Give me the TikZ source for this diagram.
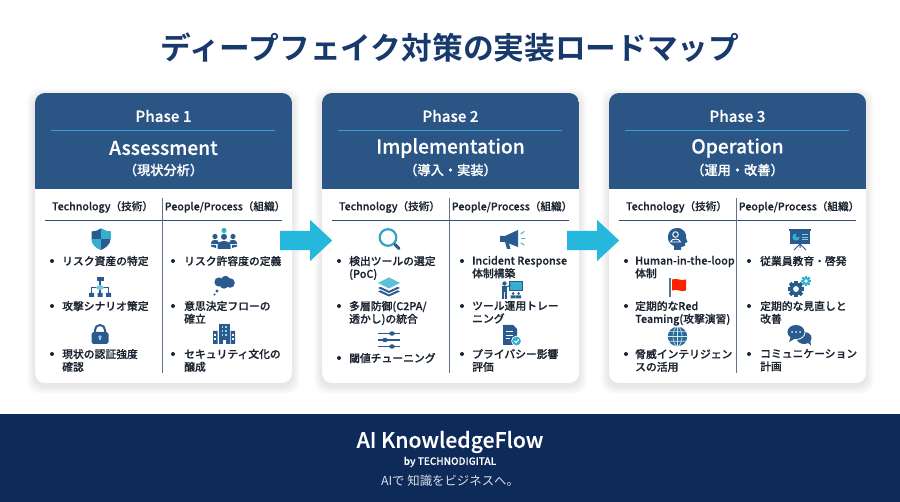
\documentclass[tikz,border=0pt]{standalone}
\usepackage{fontspec}
\usetikzlibrary{shapes.arrows,calc}
\setmainfont{Noto Sans CJK JP}[BoldFont={Noto Sans CJK JP Bold}]
\newfontfamily\medf{Noto Sans CJK JP Medium}[FakeBold=0.35]
\definecolor{hdr}{HTML}{2A5585}
\definecolor{foot}{HTML}{0E2A58}
\definecolor{ttl}{HTML}{17396B}
\definecolor{nv}{HTML}{2A5B8E}
\definecolor{tl}{HTML}{35AFD0}
\definecolor{cyanar}{HTML}{25B8DC}
\definecolor{rulec}{HTML}{2FA5D6}
\definecolor{hline}{HTML}{2E5078}
\definecolor{vline}{HTML}{5F7488}
\definecolor{txt}{HTML}{1B2430}
\tikzset{
 x=1pt,y=-1pt,
 cardbox/.style={fill=white,rounded corners=10pt,minimum width=257pt,minimum height=290pt,inner sep=0pt},
 blockarrow/.style={single arrow,fill=cyanar,inner xsep=0pt,inner ysep=9.5pt,minimum height=52pt,single arrow head extend=11pt,single arrow tip angle=86},
 hdtext/.style={text=white,inner sep=0pt,anchor=center},
 coltext/.style={text=txt,inner sep=0pt,anchor=center,font=\medf\fontsize{10.6}{12}\selectfont},
 itemtext/.style={text=txt,inner sep=0pt,anchor=north west,align=left,font=\medf\fontsize{10.8}{12.8}\selectfont},
 bul/.style={circle,fill=txt,inner sep=0pt,minimum size=4pt},
}
\newcommand\cardframe[5]{%
 \foreach \i in {1,...,8}{\fill[black,opacity=.012,rounded corners=12pt] (#2-\i,93+3-\i) rectangle (#2+257+\i,383+3+\i);}
 \node[cardbox] (card#1) at (#2+128.5,238) {};
 \begin{scope}
  \clip[rounded corners=10pt] (#2,93) rectangle (#2+257,383);
  \fill[hdr] (#2,93) rectangle (#2+257,189.5);
 \end{scope}
 \node[hdtext,font=\medf\fontsize{15.2}{18}\selectfont] (phase#1) at (#2+128.5,116) {#3};
 \draw[rulec,line width=.9pt] (#2+16,130) -- (#2+240,130);
 \node[hdtext,font=\medf\fontsize{19.2}{22}\selectfont] (name#1) at (#2+128.5,148) {#4};
 \node[hdtext,font=\medf\fontsize{13.2}{16}\selectfont] (jp#1) at (#2+128.5,170) {#5};
 \node[coltext] (tech#1) at (#2+67.5,207) {Technology（技術）};
 \node[coltext] (peop#1) at (#2+190,207) {People/Process（組織）};
 \draw[hline,line width=.8pt] (#2+10,220.5) -- (#2+247,220.5);
 \draw[vline,line width=1.1pt] (#2+127.5,198) -- (#2+127.5,373);
}
\newcommand\itm[5]{%
 \node[bul] (b#1) at (#2,#4) {};
 \node[itemtext] (t#1) at (#3+1,#4-5.2) {#5};
}
\newcommand\icShield[2]{\begin{scope}[shift={(#1,#2)}]
 \def\shp{(0,-10.5) .. controls (3,-8.5) and (6,-7.5) .. (9.5,-7.5) -- (9.5,0) .. controls (9.5,5) and (5,9) .. (0,11) .. controls (-5,9) and (-9.5,5) .. (-9.5,0) -- (-9.5,-7.5) .. controls (-6,-7.5) and (-3,-8.5) .. cycle}
 \fill[nv] \shp;
 \begin{scope}\clip \shp;
  \fill[tl] (0,-12) rectangle (12,0);
  \fill[tl] (-12,0) rectangle (0,12);
 \end{scope}
\end{scope}}
\newcommand\icPeople[2]{\begin{scope}[shift={(#1,#2)}]
 \fill[tl] (0,-9.5) circle (2.6);
 \fill[nv] (-9,-3.5) circle (2.6) (9,-3.5) circle (2.6) (0,-3.2) circle (3);
 \fill[nv] (-13,3) .. controls (-13,-1) and (-5,-1.5) .. (-5,3) -- (-5,4) -- (-13,4) -- cycle;
 \fill[nv] (13,3) .. controls (13,-1) and (5,-1.5) .. (5,3) -- (5,4) -- (13,4) -- cycle;
 \fill[nv] (-6.5,9) -- (-6.5,5) .. controls (-6,-0.5) and (6,-0.5) .. (6.5,5) -- (6.5,9) -- cycle;
 \fill[nv] (-13,5) -- (-8,5) -- (-8,8) -- (-13,6.5) -- cycle (13,5) -- (8,5) -- (8,8) -- (13,6.5) -- cycle;
\end{scope}}
\newcommand\icTree[2]{\begin{scope}[shift={(#1,#2)}]
 \draw[nv,line width=1.1pt] (0,-7) -- (0,6) (-8.5,6) -- (-8.5,.5) -- (8.5,.5) -- (8.5,6);
 \fill[nv] (-3.5,-10) rectangle (3.5,-6);
 \fill[nv] (-11,6) rectangle (-6,10) (-2.5,6) rectangle (2.5,10) (6,6) rectangle (11,10);
 \fill[tl!70] (0,.5) ellipse (3.8 and 2.4);
\end{scope}}
\newcommand\icLock[2]{\begin{scope}[shift={(#1,#2)}]
 \draw[nv,line width=2pt] (-5,-2) -- (-5,-4) arc (180:360:5) -- (5,-2);
 \fill[nv,rounded corners=1.8pt] (-8.5,-2) rectangle (8.5,10);
 \fill[tl!60] (0,3) circle (1.8);
 \fill[tl!60] (-.8,3) rectangle (.8,6.5);
\end{scope}}
\newcommand\icCloud[2]{\begin{scope}[shift={(#1,#2)}]
 \fill[nv] (-5,-3) circle (4.6) (1.5,-5) circle (4.2) (6,-2) circle (4.8) (0,-.5) circle (4.2);
 \fill[nv] (-7,6) circle (1.6) (-9.5,9.5) circle (1.1);
\end{scope}}
\newcommand\icBuild[2]{\begin{scope}[shift={(#1,#2)}]
 \fill[nv] (-5.5,-10) rectangle (5.5,10);
 \fill[nv] (-11,-3) rectangle (-6.5,10) (6.5,-3) rectangle (11,10);
 \foreach \x in {-2.5,1.2}\foreach \y in {-7.5,-3.5,.5}{\fill[tl!50] (\x,\y) rectangle (\x+1.6,\y+2);}
 \foreach \x in {-9.7,7.9}\foreach \y in {0,4}{\fill[white] (\x,\y) rectangle (\x+1.8,\y+2);}
 \fill[white] (-1.5,6) rectangle (1.5,10);
\end{scope}}
\newcommand\icGlass[2]{\begin{scope}[shift={(#1,#2)}]
 \draw[tl!85!nv,line width=2.2pt] (-1,-1.5) circle (8.3);
 \draw[nv,line width=3pt,line cap=round] (6,5.5) -- (10,9.5);
\end{scope}}
\newcommand\icMega[2]{\begin{scope}[shift={(#1,#2)}]
 \fill[nv] (-12,-3) -- (-7,-3) -- (6,-9) -- (6,8) -- (-7,3) -- (-12,3) -- cycle;
 \fill[nv] (-7,3) -- (-3,4.5) -- (-1.5,10) -- (-5,10) -- cycle;
 \draw[tl,line width=.9pt,line cap=round] (9,-5) -- (12,-7.5) (9.5,-.5) -- (13,-.5) (9,4) -- (12,6);
\end{scope}}
\newcommand\icLayers[2]{\begin{scope}[shift={(#1,#2)}]
 \fill[nv] (-11,4.5) -- (0,-.5) -- (11,4.5) -- (0,9.5) -- cycle;
 \fill[white] (-11,2) -- (0,-3.3) -- (11,2) -- (0,7.3) -- cycle;
 \fill[nv] (-11,1) -- (0,-4) -- (11,1) -- (0,6) -- cycle;
 \fill[white] (-11,-1.5) -- (0,-6.8) -- (11,-1.5) -- (0,3.8) -- cycle;
 \fill[tl!80] (-11,-4) -- (0,-9.5) -- (11,-4) -- (0,1.5) -- cycle;
\end{scope}}
\newcommand\icTrain[2]{\begin{scope}[shift={(#1,#2)}]
 \fill[tl] (-3,-9) rectangle (10,0);
 \draw[nv,line width=.9pt] (-3,-9) rectangle (10,0);
 \fill[nv] (-7.5,-6.5) circle (2.2);
 \fill[nv] (-10,-4) rectangle (-5,2);
 \fill[nv] (-9.8,2) rectangle (-8,9) (-7,2) rectangle (-5.2,9);
 \draw[nv,line width=1pt] (-5.5,-3) -- (-1,-5);
 \fill[nv] (1,3.5) circle (1.5) (6.5,3.5) circle (1.5);
 \fill[nv] (-1.5,5.5) rectangle (3.5,8.5) (4,5.5) rectangle (9,8.5);
\end{scope}}
\newcommand\icSlide[2]{\begin{scope}[shift={(#1,#2)}]
 \draw[nv,line width=1.1pt] (-11,-6.5) -- (11,-6.5) (-11,0) -- (11,0) (-11,6.5) -- (11,6.5);
 \fill[nv] (3,-6.5) ellipse (2.9 and 2.2) (-4,0) ellipse (2.9 and 2.2) (3,6.5) ellipse (2.9 and 2.2);
\end{scope}}
\newcommand\icDoc[2]{\begin{scope}[shift={(#1,#2)}]
 \fill[nv] (-7,-10) -- (3,-10) -- (7,-6) -- (7,10) -- (-7,10) -- cycle;
 \draw[white,line width=.9pt] (-4.5,-3.5) -- (3,-3.5) (-4.5,0) -- (3,0) (-4.5,3.5) -- (0,3.5);
 \fill[white] (6.5,6) circle (5.3);
 \fill[tl] (6.5,6) circle (4.4);
 \draw[white,line width=.9pt] (4.4,6) -- (6,7.7) -- (8.8,4.4);
\end{scope}}
\newcommand\icHead[2]{\begin{scope}[shift={(#1,#2)}]
 \fill[nv] (-3,11) -- (-3,7) .. controls (-12,4) and (-11,-11) .. (0,-11) .. controls (7,-11) and (10,-5) .. (9,-1) -- (10.5,3) -- (8,4) -- (8,7) -- (4,8) -- (4,11) -- cycle;
 \draw[white,line width=.9pt] (-1.5,-4.5) circle (2.8) (-6.5,3) .. controls (-5.5,-1) and (2.5,-1) .. (3.5,3) -- cycle;
\end{scope}}
\newcommand\icBoard[2]{\begin{scope}[shift={(#1,#2)}]
 \fill[nv] (-10,-8) rectangle (10,5);
 \fill[nv] (-11,-9.5) rectangle (11,-8);
 \fill[tl] (-4,-2) circle (3.6);
 \fill[nv] (-4,-2) -- (-4,-5.6) arc (270:360:3.6) -- cycle;
 \draw[tl!60,line width=.9pt] (1.5,-4.5) -- (7.5,-4.5) (1.5,-2) -- (7.5,-2) (1.5,.5) -- (7.5,.5);
 \draw[nv,line width=1pt] (0,5) -- (-6,11) (0,5) -- (6,11) (0,5) -- (0,9);
\end{scope}}
\newcommand\icFlag[2]{\begin{scope}[shift={(#1,#2)}]
 \draw[vline,line width=1.2pt] (-8,-9) -- (-8,10);
 \fill[red!75!orange] (-6,-7.5) .. controls (-1,-9.5) and (3,-5.5) .. (8,-7.5) -- (8,3.5) .. controls (3,5.5) and (-1,1.5) .. (-6,3.5) -- cycle;
\end{scope}}
\newcommand\gearshape[3]{%
 \foreach \a in {0,45,...,315}{\fill[#3,rotate around={\a:(#1)}] ($(#1)+(-.28*#2,-1.42*#2)$) rectangle ($(#1)+(.28*#2,1.42*#2)$);}
 \fill[#3] (#1) circle ({1.1*#2});
 \fill[white] (#1) circle ({.5*#2});
}
\newcommand\icGears[2]{\begin{scope}[shift={(#1,#2)}]
 \gearshape{-2,3}{5.8}{nv}
 \gearshape{8,-5}{3.6}{tl}
\end{scope}}
\newcommand\icGlobe[2]{\begin{scope}[shift={(#1,#2)}]
 \fill[nv!85!tl] (0,0) circle (9.7);
 \draw[tl!25,line width=.6pt] (0,0) ellipse (4.5 and 9.7) (0,-9.7) -- (0,9.7) (-9.7,0) -- (9.7,0) (-8.4,-4.8) -- (8.4,-4.8) (-8.4,4.8) -- (8.4,4.8);
\end{scope}}
\newcommand\icChat[2]{\begin{scope}[shift={(#1,#2)}]
 \fill[nv] (5,3) ellipse (7.5 and 6);
 \fill[nv] (8,7) -- (12,10.5) -- (11,3) -- cycle;
 \fill[white] (-3,-3) ellipse (9.5 and 8);
 \fill[nv] (-3,-3) ellipse (8.6 and 7);
 \fill[nv] (-8,1) -- (-10,7) -- (-3,3) -- cycle;
 \fill[white!80!tl] (-7,-3) circle (1) (-3,-3) circle (1) (1,-3) circle (1);
\end{scope}}
\begin{document}
\begin{tikzpicture}
\useasboundingbox (0,0) rectangle (900,502);
\fill[white] (0,0) rectangle (900,502);
\node[inner sep=0pt,text=ttl,font=\bfseries\fontsize{30.7}{34}\selectfont] (title) at (450,48) {ディープフェイク対策の実装ロードマップ};
\cardframe{1}{35}{Phase 1}{Assessment}{（現状分析）}
\cardframe{2}{322}{Phase 2}{Implementation}{（導入・実装）}
\cardframe{3}{609}{Phase 3}{Operation}{（運用・改善）}
\node[blockarrow] (arrowA) at ($(card1.east)!.5!(card2.west)+(-6,2.5)$) {};
\node[blockarrow] (arrowB) at ($(card2.east)!.5!(card3.west)+(-6,2.5)$) {};
\icShield{101}{239}\icPeople{224}{240}\icTree{100}{287}\icCloud{224}{285}\icLock{100}{334}\icBuild{224}{334}
\itm{a1}{52}{61}{261}{リスク資産の特定}
\itm{a2}{52}{61}{306}{攻撃シナリオ策定}
\itm{a3}{52}{61}{354}{現状の認証強度\\確認}
\itm{a4}{173}{183}{261}{リスク許容度の定義}
\itm{a5}{173}{183}{306}{意思決定フローの\\確立}
\itm{a6}{173}{183}{354}{セキュリティ文化の\\醸成}
\icGlass{389}{239}\icMega{512}{239}\icLayers{389}{287}\icTrain{512}{290}\icSlide{389}{340}\icDoc{510}{335}
\itm{b1}{339}{348}{261}{検出ツールの選定\\(PoC)}
\itm{b2}{339}{348}{306}{多層防御(C2PA/\\透かし)の統合}
\itm{b3}{339}{348}{358}{閾値チューニング}
\itm{b4}{462}{471}{261}{Incident Response\\体制構築}
\itm{b5}{462}{471}{306}{ツール運用トレー\\ニング}
\itm{b6}{462}{471}{354}{プライバシー影響\\評価}
\icHead{677}{239}\icBoard{800}{239}\icFlag{678}{287}\icGears{798}{286}\icGlobe{677.5}{336.5}\icChat{799}{335}
\itm{c1}{626}{634}{261}{Human-in-the-loop\\体制}
\itm{c2}{626}{634}{306}{定期的なRed\\Teaming(攻撃演習)}
\itm{c3}{626}{634}{354}{脅威インテリジェン\\スの活用}
\itm{c4}{749}{759}{261}{従業員教育・啓発}
\itm{c5}{749}{759}{306}{定期的な見直しと\\改善}
\itm{c6}{749}{759}{354}{コミュニケーション\\計画}
\fill[foot] (0,414) rectangle (900,502);
\node[inner sep=0pt,text=white,font=\medf\fontsize{21.2}{24}\selectfont] (brand) at (450,442) {AI KnowledgeFlow};
\node[inner sep=0pt,text=white,font=\medf\fontsize{10}{12}\selectfont] (by) at (450,462) {by TECHNODIGITAL};
\node[inner sep=0pt,text=white!85!foot,font=\fontsize{12.4}{15}\selectfont] (tag) at (450,481) {AIで 知識をビジネスへ。};
\end{tikzpicture}
\end{document}
